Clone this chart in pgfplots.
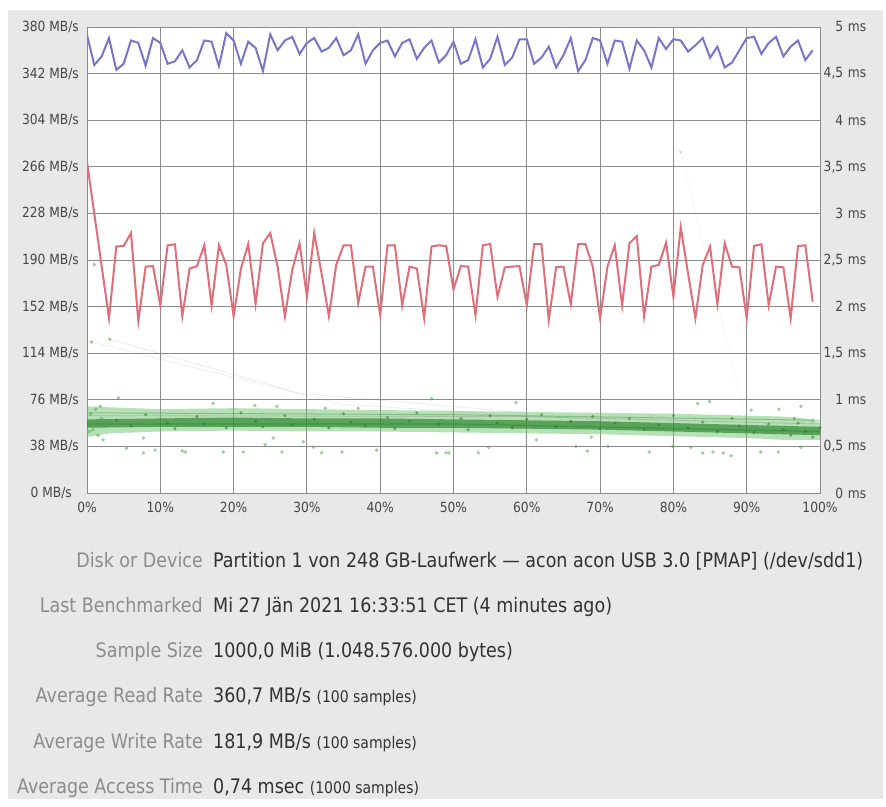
\documentclass[border=0pt]{standalone}
\usepackage{pgfplots}
\pgfplotsset{compat=1.18}
\usepackage{fontspec}
\setmainfont[FakeStretch=0.875]{DejaVu Sans}
\definecolor{panelc}{RGB}{232,232,232}
\definecolor{gridc}{RGB}{140,140,140}
\definecolor{tickc}{RGB}{70,70,70}
\definecolor{labc}{RGB}{140,140,140}
\definecolor{valc}{RGB}{50,50,50}
\definecolor{readc}{RGB}{120,118,200}
\definecolor{writec}{RGB}{224,110,120}
\definecolor{bandlight}{RGB}{110,195,110}
\definecolor{banddark}{RGB}{40,130,40}
\definecolor{dotc}{RGB}{70,170,70}
\newcommand{\ticksize}{\fontsize{14}{16}\selectfont}
\newcommand{\panelsize}{\fontsize{20}{24}\selectfont}
\newcommand{\smallsize}{\fontsize{16}{18}\selectfont}
\begin{document}
\begin{tikzpicture}[x=1pt,y=1pt]
\useasboundingbox (0,0) rectangle (886,806);
\fill[white] (0,0) rectangle (886,806);
\fill[panelc] (8,7) rectangle (883,796);
% ---------------- left axis: MB/s ----------------
\begin{axis}[
  at={(87pt,313pt)}, anchor=south west,
  scale only axis, width=733pt, height=466pt,
  xmin=0, xmax=100, ymin=0, ymax=380,
  xtick={0,10,20,30,40,50,60,70,80,90,100},
  xticklabels={0\%,10\%,20\%,30\%,40\%,50\%,60\%,70\%,80\%,90\%,100\%},
  ytick={0,38,76,114,152,190,228,266,304,342,380},
  yticklabels={0 MB/s\hspace*{7pt},38 MB/s,76 MB/s,114 MB/s,152 MB/s,190 MB/s,228 MB/s,266 MB/s,304 MB/s,342 MB/s,380 MB/s},
  grid=major, grid style={draw=gridc, line width=0.9pt},
  axis line style={draw=gridc, line width=0.9pt},
  major tick length=0pt,
  tick label style={font=\ticksize, text=tickc},
  yticklabel style={inner sep=0pt, xshift=-8pt},
  xticklabel style={inner sep=0pt, yshift=-9pt},
  axis background/.style={fill=white},
]
\addplot[readc, line width=2pt] coordinates {
(0,373.5)(1,349)(2,356)(3,371)(4,345)(5,350)(6,369)(7,367)(8,348.5)(9,371)
(10,367)(11,350)(12,352)(13,361)(14,347)(15,353)(16,369)(17,368)(18,348)(19,375)
(20,369)(21,350)(22,368)(23,363)(24,344)(25,374)(26,361)(27,369)(28,372)(29,358)
(30,367)(31,371)(32,360)(33,363)(34,371)(35,357)(36,361)(37,374)(38,350)(39,361)
(40,367)(41,369)(42,356)(43,367)(44,370)(45,354)(46,363)(47,369)(48,351)(49,357)
(50,368)(51,350)(52,353)(53,370)(54,347)(55,354)(56,372)(57,349)(58,355)(59,370)
(60,370)(61,350)(62,355)(63,364)(64,347)(65,357)(66,371)(67,344)(68,353)(69,371)
(70,369)(71,350)(72,369)(73,368)(74,346)(75,369)(76,361)(77,347)(78,371)(79,362)
(80,370)(81,369)(82,360)(83,365)(84,371)(85,355)(86,364)(87,347)(88,351)(89,361)
(90,371)(91,372)(92,358)(93,367)(94,372)(95,356)(96,364)(97,369)(98,353)(99,361)
};
\addplot[writec, line width=2pt] coordinates {
(0,270)(1,227.5)(2,185)(3,142.5)(4,201)(5,201.4)(6,212)(7,140)(8,184.6)(9,185)
(10,153)(11,202)(12,202.8)(13,144)(14,183)(15,185)(16,202)(17,153)(18,202)(19,186)
(20,144)(21,183)(22,203)(23,154)(24,203.6)(25,212)(26,184.6)(27,144)(28,182)(29,203.6)
(30,160)(31,212)(32,179)(33,144)(34,186)(35,202)(36,202)(37,154.7)(38,184.6)(39,184.6)
(40,145)(41,202)(42,202)(43,153)(44,184.6)(45,183)(46,142.5)(47,201)(48,202)(49,201.4)
(50,166)(51,185)(52,184.6)(53,145)(54,202)(55,203)(56,160)(57,184)(58,184.6)(59,185)
(60,153)(61,203)(62,203)(63,141)(64,184)(65,184.6)(66,154)(67,203)(68,203)(69,184.6)
(70,142.5)(71,184.6)(72,202)(73,153)(74,203.6)(75,209.6)(76,144)(77,184.6)(78,186)(79,204)
(80,160)(81,216.6)(82,179)(83,142.5)(84,186)(85,201)(86,154)(87,203.6)(88,184.6)(89,184)
(90,142.5)(91,201.4)(92,202.8)(93,153)(94,184.6)(95,184)(96,142.5)(97,201.4)(98,202)(99,156)
};
\end{axis}
% ---------------- right axis: ms ----------------
\begin{axis}[
  at={(87pt,313pt)}, anchor=south west,
  scale only axis, width=733pt, height=466pt,
  xmin=0, xmax=100, ymin=0, ymax=5,
  hide x axis,
  axis y line*=right, y axis line style={draw=none},
  major tick length=0pt,
  ytick={0,0.5,1,1.5,2,2.5,3,3.5,4,4.5,5},
  yticklabels={{0 ms},{0,5 ms},{1 ms},{1,5 ms},{2 ms},{2,5 ms},{3 ms},{3,5 ms},{4 ms},{4,5 ms},{5 ms}},
  tick label style={font=\ticksize, text=tickc},
  yticklabel style={inner sep=0pt, text width=46pt, align=right},
]
% faint connecting lines
\addplot[gray, opacity=0.15, line width=0.8pt] coordinates {(3.1,1.65)(29,1.07)(60,0.86)};
\addplot[gray, opacity=0.12, line width=0.8pt] coordinates {(0.6,1.62)(35,0.95)(70,0.78)};
\addplot[gray, opacity=0.07, line width=0.8pt] coordinates {(81,3.66)(90,0.75)};
% outer light band
\addplot[draw=none, fill=bandlight, fill opacity=0.5] coordinates {
(0,0.93)(3,0.92)(10,0.90)(20,0.91)(30,0.90)(40,0.89)(50,0.88)(60,0.87)(70,0.86)(80,0.85)(90,0.83)(95,0.82)(98,0.80)(100,0.76)
(100,0.57)(95,0.57)(90,0.59)(80,0.61)(70,0.63)(60,0.64)(50,0.65)(40,0.66)(30,0.66)(20,0.67)(10,0.66)(3,0.64)(0,0.60)
} -- cycle;
% dense dark core
\addplot[draw=none, fill=banddark, fill opacity=0.65] coordinates {
(0,0.79)(10,0.80)(20,0.81)(30,0.80)(40,0.80)(50,0.79)(60,0.78)(70,0.77)(80,0.75)(90,0.73)(100,0.71)
(100,0.62)(90,0.64)(80,0.66)(70,0.68)(60,0.69)(50,0.70)(40,0.70)(30,0.71)(20,0.71)(10,0.71)(0,0.70)
} -- cycle;
% texture lines inside the band
\addplot[banddark, opacity=0.35, line width=1pt] coordinates {(0,0.86)(50,0.84)(100,0.78)};
\addplot[gray, opacity=0.35, line width=0.8pt] coordinates {(0,0.83)(60,0.82)(100,0.74)};
\addplot[banddark, opacity=0.45, line width=1.2pt] coordinates {(0,0.74)(50,0.74)(100,0.66)};
% outliers
\addplot[only marks, mark=*, mark size=1.6pt, color=dotc, opacity=0.45] coordinates {
(0.6,1.62)(3.1,1.65)(1.0,2.45)(4.3,1.02)(2.2,0.57)(7.7,0.59)(5.4,0.48)(7.7,0.43)(9.3,0.46)
(13.4,0.44)(13.0,0.45)(17.2,0.96)(18.6,0.44)(21.3,0.44)(22.9,0.94)(24.3,0.52)(25.4,0.59)
(25.9,0.93)(26.6,0.44)(29.5,0.55)(30.9,0.49)(32.0,0.43)(32.5,0.91)(34.8,0.44)(37.0,0.91)
(39.5,0.46)(47.0,1.01)(47.7,0.43)(49.0,0.43)(49.4,0.43)(53.4,0.43)(54.8,0.49)(58.5,0.97)
(61.3,0.57)(66.7,0.50)(68.3,0.45)(68.8,0.60)(71.1,0.50)(76.7,0.44)(79.9,0.50)
(82.4,0.49)(83.3,0.96)(84.0,0.43)(84.9,0.98)(85.4,0.44)(86.8,0.43)(87.9,0.40)(90.6,0.89)
(91.9,0.44)(94.3,0.44)(94.4,0.90)(96.5,0.80)(97.4,0.93)(97.4,0.49)(99.0,0.78)
(0.2,0.75)(0.5,0.85)(0.8,0.68)(1.2,0.90)(1.5,0.62)(2.0,0.80)(2.6,0.72)(0.3,0.66)(1.8,0.93)
};
\addplot[only marks, mark=*, mark size=1.6pt, color=gray, opacity=0.2] coordinates {(81.0,3.66)};
% texture dots in band
\addplot[only marks, mark=*, mark size=1.4pt, color=banddark, opacity=0.5] coordinates {
(4,0.78)(6,0.72)(8,0.84)(11,0.75)(12,0.69)(15,0.82)(16,0.74)(19,0.70)(21,0.86)(23,0.77)
(24,0.71)(27,0.83)(28,0.73)(31,0.79)(33,0.70)(35,0.85)(36,0.76)(38,0.72)(41,0.81)(42,0.69)
(44,0.77)(45,0.86)(48,0.74)(51,0.80)(52,0.68)(55,0.83)(56,0.75)(58,0.70)(60,0.79)(62,0.84)
(64,0.71)(66,0.77)(69,0.82)(70,0.69)(72,0.75)(74,0.80)(76,0.68)(78,0.73)(80,0.83)(82,0.70)
(84,0.76)(86,0.66)(88,0.80)(89,0.72)(91,0.65)(93,0.74)(95,0.68)(96,0.62)(97,0.75)(98,0.66)
(99,0.60)(100,0.70)
};
\end{axis}
% ---------------- info panel ----------------
\begin{scope}[every node/.style={inner sep=0pt}]
\node[anchor=base east, text=labc, font=\panelsize] at (203,238) {Disk or Device};
\node[anchor=base west, text=valc, font=\panelsize] at (213,238) {Partition 1 von 248 GB-Laufwerk — acon acon USB 3.0 [PMAP] (/dev/sdd1)};
\node[anchor=base east, text=labc, font=\panelsize] at (203,193) {Last Benchmarked};
\node[anchor=base west, text=valc, font=\panelsize] at (213,193) {Mi 27 Jän 2021 16:33:51 CET (4 minutes ago)};
\node[anchor=base east, text=labc, font=\panelsize] at (203,148) {Sample Size};
\node[anchor=base west, text=valc, font=\panelsize] at (213,148) {1000,0 MiB (1.048.576.000 bytes)};
\node[anchor=base east, text=labc, font=\panelsize] at (203,103) {Average Read Rate};
\node[anchor=base west, text=valc, font=\panelsize] at (213,103) {360,7 MB/s {\smallsize(100 samples)}};
\node[anchor=base east, text=labc, font=\panelsize] at (203,58) {Average Write Rate};
\node[anchor=base west, text=valc, font=\panelsize] at (213,58) {181,9 MB/s {\smallsize(100 samples)}};
\node[anchor=base east, text=labc, font=\panelsize] at (203,13) {Average Access Time};
\node[anchor=base west, text=valc, font=\panelsize] at (213,13) {0,74 msec {\smallsize(1000 samples)}};
\end{scope}
\end{tikzpicture}
\end{document}
